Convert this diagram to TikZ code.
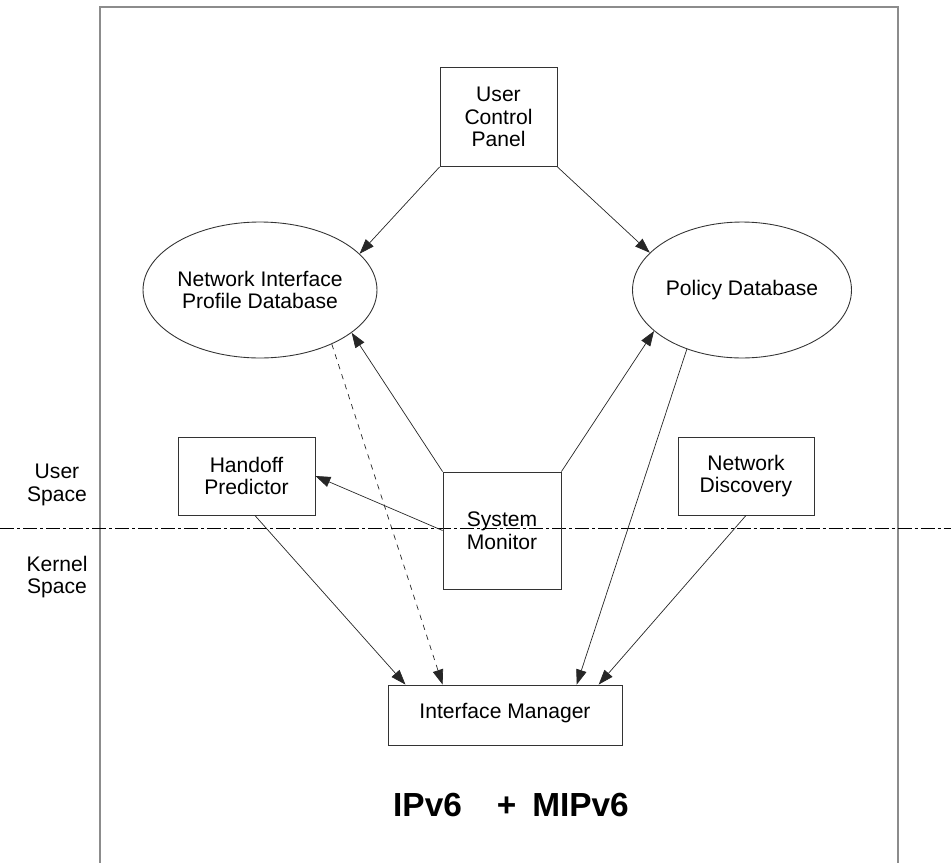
\documentclass[tikz,border=0pt]{standalone}
\usepackage{fontspec}
\setmainfont{Liberation Sans}
\usetikzlibrary{arrows.meta,shapes.geometric}
\begin{document}
\begin{tikzpicture}[x=0.02cm,y=-0.02cm,>={Triangle[length=8.5pt,width=6pt]},
	box/.style={draw=black!80,line width=0.5pt,align=center,inner sep=0pt,font=\fontsize{12}{13}\selectfont},
	dbase/.style={ellipse,draw=black!80,line width=0.5pt,align=center,inner sep=0pt,font=\fontsize{12}{13}\selectfont},
	link/.style={->,line width=0.4pt,color=black!85}]
		\useasboundingbox (0,0) rectangle (951,863);
		\draw[gray!90,line width=0.9pt] (100,863)--(100,7)--(898,7)--(898,863);
		\draw[line width=0.5pt,dash pattern=on 8pt off 1.7pt on 1.7pt off 1.7pt] (0,528)--(951,528);
		\node[align=center,font=\fontsize{12}{13}\selectfont] (us) at (57,485) {User\\Space};
		\node[align=center,font=\fontsize{12}{13}\selectfont] (ks) at (57,577) {Kernel\\Space};
		\node[box,minimum width=2.34cm,minimum height=1.98cm] (ucp) at (498.5,117) {User\\Control\\Panel};
		\node[dbase,minimum width=4.68cm,minimum height=2.72cm] (nipd) at (260,290) {Network Interface\\Profile Database};
		\node[dbase,minimum width=4.38cm,minimum height=2.72cm] (pd) at (742,290) {Policy Database};
		\node[box,minimum width=2.74cm,minimum height=1.56cm] (hp) at (246.5,476) {Handoff\\Predictor};
		\node[box,minimum width=2.72cm,minimum height=1.56cm] (nd) at (746,476) {Network\\Discovery};
		\node[box,minimum width=2.36cm,minimum height=2.34cm] (sm) at (502,530.5) {System\\Monitor};
		\node[box,minimum width=4.68cm,minimum height=1.2cm,text depth=5pt] (im) at (505,715) {Interface Manager};
		\node[font=\fontsize{19}{22}\selectfont\bfseries] (ip) at (511,805) {IPv6\hspace{20pt}+\hspace{9pt}MIPv6};
		\draw[link] (ucp.south west)--(nipd.20);
		\draw[link] (ucp.south east)--(pd.158);
		\draw[link] (sm.north west)--(nipd.-25);
		\draw[link] (sm.north east)--(pd.205);
		\draw[link] (sm.west)--(hp.east);
		\draw[link,dashed] (nipd.-37)--(im.154);
		\draw[link] (hp.-78)--(im.163);
		\draw[link] (pd.227)--(im.23);
		\draw[link] (nd.south)--(im.18);
	\end{tikzpicture}
\end{document}
